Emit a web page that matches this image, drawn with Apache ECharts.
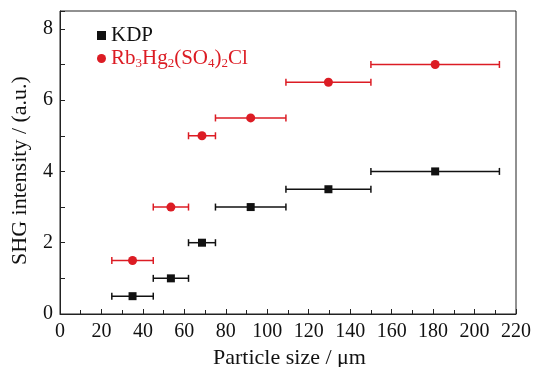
<!DOCTYPE html>
<html>
<head>
<meta charset="utf-8">
<script src="https://cdn.jsdelivr.net/npm/echarts@6/dist/echarts.min.js"></script>
<style>
  html, body { margin: 0; padding: 0; background: #fff; }
  #chart { width: 534px; height: 367px; }
</style>
</head>
<body>
<div id="chart"></div>
<script>
// particle size (um) with range, and SHG intensity
const sizes = [35, 53.5, 68.5, 92, 129.5, 181]
const sizeLow = [25, 45, 62, 75, 109, 150]
const sizeHigh = [45, 62, 75, 109, 150, 212]
const kdp = [0.5, 1, 2, 3, 3.5, 4]
const rhsc = [1.5, 3, 5, 5.5, 6.5, 7]

const black = '#111'
const red = '#dc1c24'
const font = 'Liberation Serif'

function points(vals) {
  return vals.map((v, i) => [sizes[i], v])
}
function errs(vals) {
  return vals.map((v, i) => [sizeLow[i], sizeHigh[i], v])
}

function errorBar(color) {
  return function (params, api) {
    const y = api.value(2)
    const a = api.coord([api.value(0), y])
    const b = api.coord([api.value(1), y])
    const h = 3.5
    const style = { stroke: color, lineWidth: 1.5 }
    return {
      type: 'group',
      children: [
        { type: 'line', shape: { x1: a[0], y1: a[1], x2: b[0], y2: b[1] }, style: style },
        { type: 'line', shape: { x1: a[0], y1: a[1] - h, x2: a[0], y2: a[1] + h }, style: style },
        { type: 'line', shape: { x1: b[0], y1: b[1] - h, x2: b[0], y2: b[1] + h }, style: style }
      ]
    }
  }
}

const chart = echarts.init(document.getElementById('chart'))
chart.setOption({
  animation: false,
  textStyle: { fontFamily: font },
  grid: {
    left: 60, right: 18, top: 11, bottom: 53,
    outerBoundsMode: 'none',
    containLabel: false,
    show: true, borderColor: '#222', borderWidth: 1
  },
  legend: {
    left: 92, top: 20,
    orient: 'vertical',
    itemGap: 2,
    itemWidth: 9, itemHeight: 9,
    data: [
      { name: 'KDP', icon: 'rect', itemStyle: { color: black } },
      { name: 'RHSC', icon: 'circle', itemStyle: { color: red } }
    ],
    formatter: function (name) {
      if (name === 'KDP') return '{k|KDP}'
      return '{n|Rb}{s|3}{n|Hg}{s|2}{n|(SO}{s|4}{n|)}{s|2}{n|Cl}'
    },
    textStyle: {
      fontFamily: font,
      rich: {
        k: { fontSize: 21, color: black, fontFamily: font },
        n: { fontSize: 21, color: red, fontFamily: font },
        s: { fontSize: 13, color: red, fontFamily: font, padding: [10, 0, 0, 0] }
      }
    }
  },
  xAxis: {
    type: 'value',
    min: 0, max: 220, interval: 20,
    name: 'Particle size / μm',
    nameLocation: 'middle',
    nameGap: 31,
    nameTextStyle: { fontSize: 22, color: black, fontFamily: font, padding: [0, 0, 0, 3] },
    axisLine: { lineStyle: { color: '#222', width: 1 } },
    axisTick: { inside: true, length: 5, lineStyle: { color: '#222' } },
    minorTick: { show: true, splitNumber: 2, length: 4, lineStyle: { color: '#222' } },
    axisLabel: { fontSize: 20, color: black, fontFamily: font, margin: 8 },
    splitLine: { show: false }
  },
  yAxis: {
    type: 'value',
    min: 0, max: 8.5, interval: 2,
    name: 'SHG intensity / (a.u.)',
    nameLocation: 'middle',
    nameGap: 29,
    nameTextStyle: { fontSize: 22, color: black, fontFamily: font, padding: [0, 16, 0, 0] },
    axisLine: { lineStyle: { color: '#222', width: 1 } },
    axisTick: { inside: true, length: 5, lineStyle: { color: '#222' } },
    minorTick: { show: true, splitNumber: 2, length: 5, lineStyle: { color: '#222' } },
    axisLabel: {
      fontSize: 20, color: black, fontFamily: font, margin: 7,
      showMaxLabel: false
    },
    splitLine: { show: false }
  },
  series: [
    {
      type: 'custom', name: 'KDP',
      renderItem: errorBar(black),
      itemStyle: { color: black },
      encode: { x: [0, 1], y: 2 },
      data: errs(kdp), z: 1
    },
    {
      type: 'custom', name: 'RHSC',
      renderItem: errorBar(red),
      itemStyle: { color: red },
      encode: { x: [0, 1], y: 2 },
      data: errs(rhsc), z: 1
    },
    {
      type: 'scatter', name: 'KDP',
      symbol: 'rect', symbolSize: 8,
      itemStyle: { color: black, opacity: 1 },
      data: points(kdp), z: 3
    },
    {
      type: 'scatter', name: 'RHSC',
      symbol: 'circle', symbolSize: 9,
      itemStyle: { color: red, opacity: 1 },
      data: points(rhsc), z: 3
    }
  ]
})
</script>
</body>
</html>
